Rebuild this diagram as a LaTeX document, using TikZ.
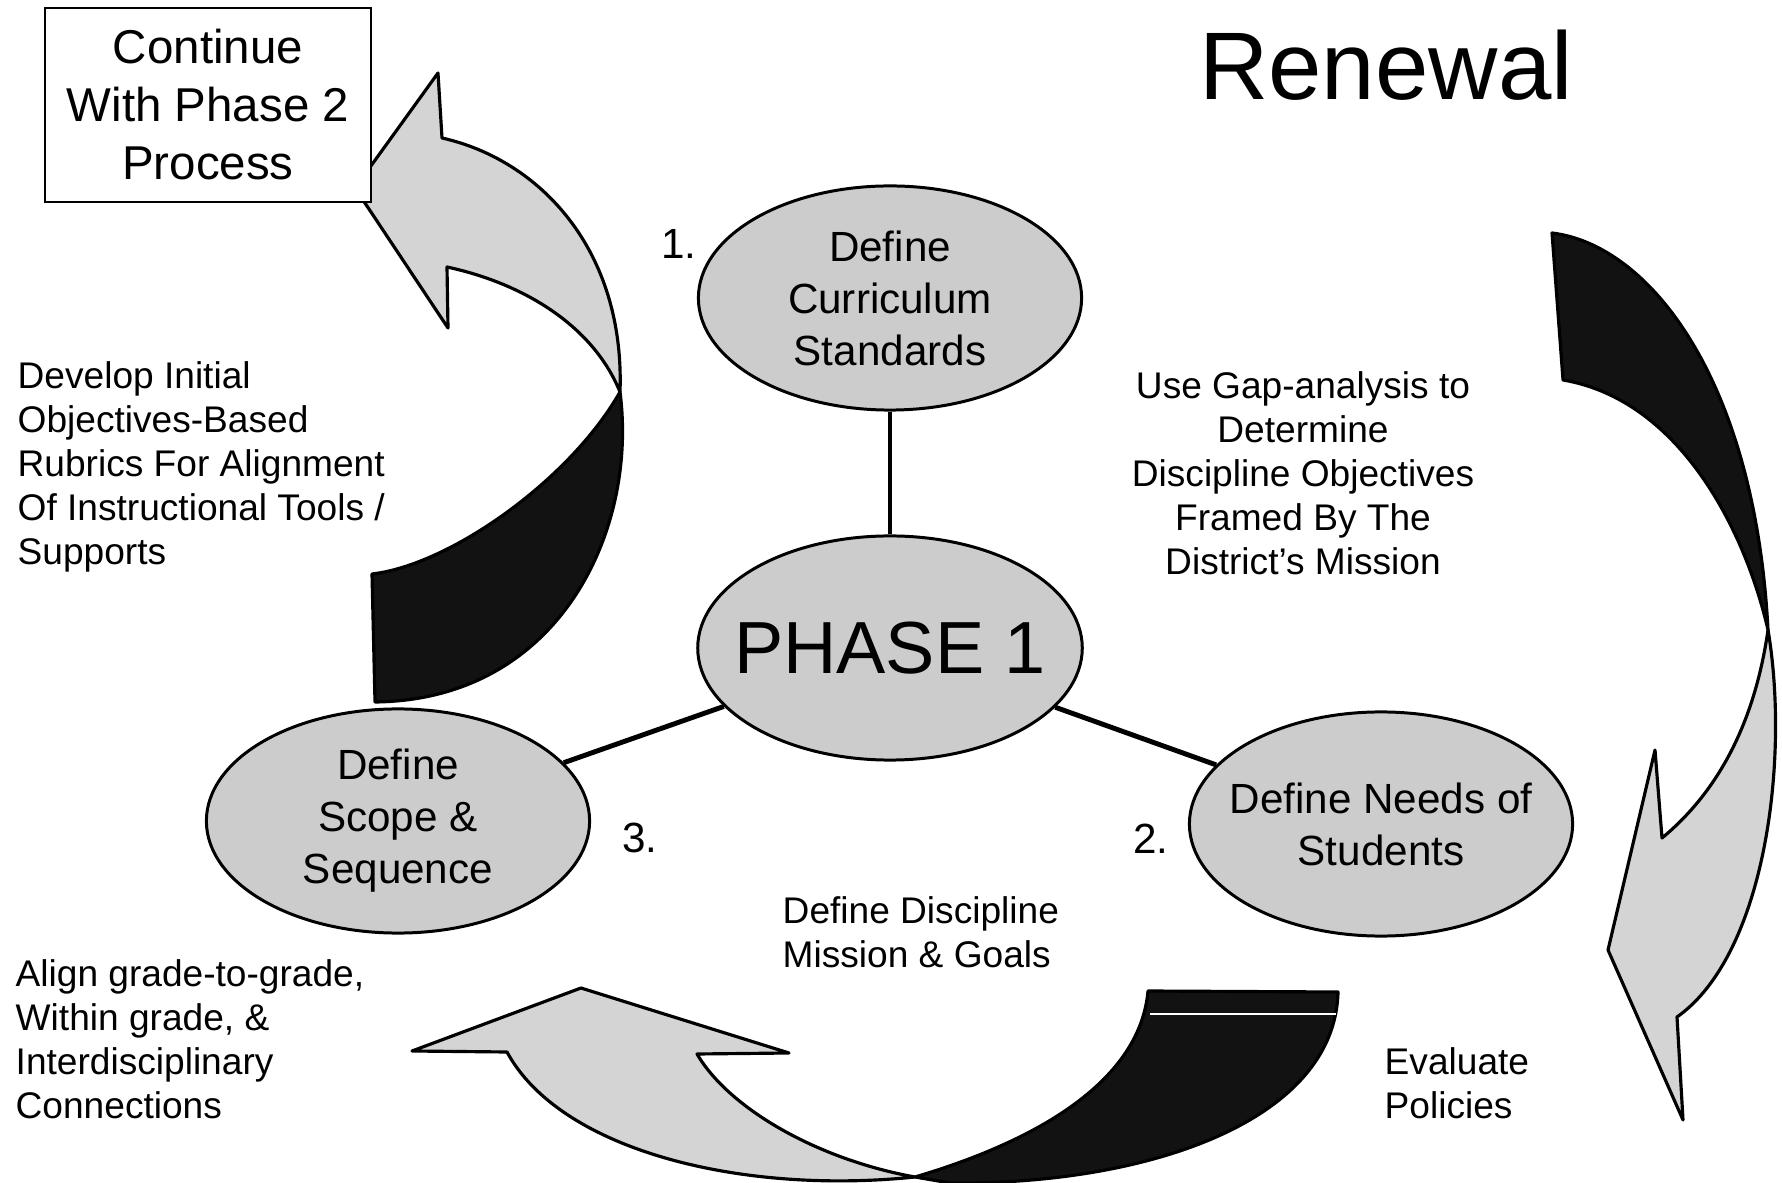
\documentclass[tikz,border=0pt]{standalone}
\usepackage{fontspec}
\setmainfont{Liberation Sans}
\usetikzlibrary{shapes.geometric}
\definecolor{ovalgrey}{gray}{0.8}
\definecolor{bandgrey}{gray}{0.83}
\definecolor{banddark}{gray}{0.07}

\begin{document}
\begin{tikzpicture}[x=0.01cm, y=-0.01cm,
	oval/.style={draw, line width=0.85pt, ellipse, fill=ovalgrey, minimum width=3.83cm, minimum height=2.24cm, inner xsep=-0.2cm, inner ysep=0pt, align=center, font=\fontsize{12pt}{14.8pt}\selectfont},
	band/.style={draw, line width=0.9pt, line join=round, fill=bandgrey},
	backband/.style={draw, line width=0.9pt, line join=round, fill=banddark},
	note/.style={inner sep=0pt, font=\fontsize{10.55pt}{12.5pt}\selectfont},
	stepno/.style={inner sep=0pt, font=\fontsize{12pt}{14pt}\selectfont},
	link/.style={line width=1.4pt}]
	\useasboundingbox (0,0) rectangle (1782,1183);

	% left arrow
	\draw[backband] (620,392) .. controls (638,530) and (560,700) .. (375,702) -- (372,574) .. controls (450,565) and (570,480) .. (620,392) -- cycle;
	\draw[band] (620,392) .. controls (625,250) and (540,160) .. (442,138) -- (438,73) -- (355,188) -- (448,328) -- (447,267) .. controls (530,285) and (595,330) .. (620,392) -- cycle;

	% right arrow
	\draw[backband] (1552,233) .. controls (1650,245) and (1755,380) .. (1768,630) .. controls (1745,530) and (1680,400) .. (1563,380) -- cycle;
	\draw[band] (1768,630) .. controls (1790,760) and (1765,955) .. (1677,1017) -- (1683,1120) -- (1608,950) -- (1655,750) -- (1662,838) .. controls (1720,790) and (1755,720) .. (1768,630) -- cycle;

	% bottom arrow
	\draw[backband] (915,1177) .. controls (1040,1140) and (1140,1080) .. (1148,991) -- (1338,992) .. controls (1335,1120) and (1150,1185) .. (950,1183) -- cycle;
	\draw[white, line width=0.6pt] (1150,1014) -- (1336,1014);
	\draw[band] (915,1177) .. controls (740,1195) and (560,1150) .. (507,1052) -- (412,1051) -- (581,988) -- (789,1053) -- (697,1054) .. controls (730,1110) and (820,1160) .. (915,1177) -- cycle;

	\node[draw, line width=0.6pt, fill=white, minimum width=3.26cm, minimum height=1.94cm, align=center, font=\fontsize{13.5pt}{16.5pt}\selectfont] (phasetwo) at (208,105) {Continue\\With Phase 2\\Process};
	\node[inner sep=0pt, font=\fontsize{27.3pt}{32pt}\selectfont] (renewal) at (1386,65) {Renewal};

	\node[oval] (standards) at (890,298) {Define\\Curriculum\\Standards};
	\node[oval, font=\fontsize{21pt}{25pt}\selectfont] (phase) at (890,648) {PHASE 1};
	\node[oval] (scope) at (398,821) {Define\\Scope \&\\Sequence};
	\node[oval] (needs) at (1381,824) {Define Needs of\\Students};

	\draw[link] (standards) -- (phase);
	\draw[link] (phase) -- (scope);
	\draw[link] (phase) -- (needs);

	\node[stepno] (one) at (679,244) {1.};
	\node[stepno] (two) at (1151,839) {2.};
	\node[stepno] (three) at (640,838) {3.};

	\node[note, anchor=west, align=left] (rubrics) at (17,467) {Develop Initial\\Objectives-Based\\Rubrics For Alignment\\Of Instructional Tools /\\Supports};
	\node[note, align=center] (gap) at (1303,473) {Use Gap-analysis to\\Determine\\Discipline Objectives\\Framed By The\\District’s Mission};
	\node[note, anchor=west, align=left] (mission) at (782,932) {Define Discipline\\Mission \& Goals};
	\node[note, anchor=west, align=left] (grades) at (15,1039) {Align grade-to-grade,\\Within grade, \&\\Interdisciplinary\\Connections};
	\node[note, anchor=west, align=left] (policies) at (1384,1083) {Evaluate\\Policies};
\end{tikzpicture}
\end{document}
